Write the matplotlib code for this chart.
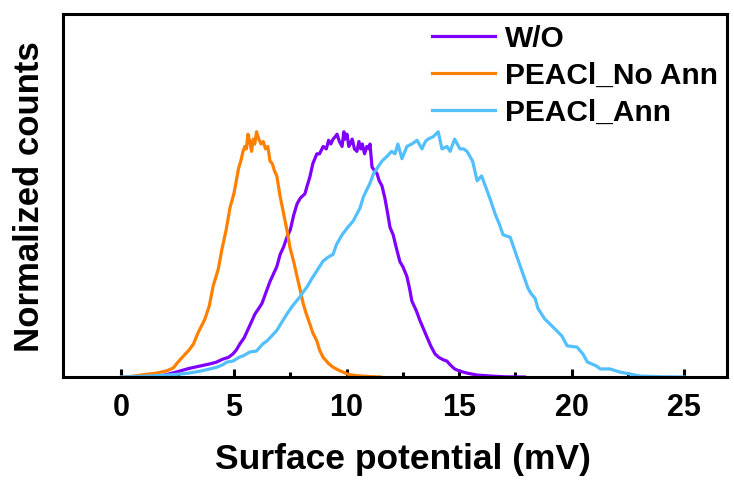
import matplotlib
matplotlib.use("Agg")
import matplotlib.pyplot as plt
from matplotlib.ticker import MultipleLocator, FixedLocator

# surface potential (mV) vs normalized counts
wo_x = [1.5, 2.0, 2.5, 3.0, 3.5, 3.9, 4.2, 4.5, 4.75, 4.95, 5.1, 5.26, 5.45, 5.6, 5.75,
        5.93, 6.1, 6.24, 6.4, 6.6, 6.75, 6.9, 7.05, 7.2, 7.35, 7.5, 7.65, 7.8, 7.95, 8.15,
        8.25, 8.37, 8.5, 8.68, 8.8, 8.96, 9.1, 9.2, 9.3, 9.4, 9.5, 9.58, 9.68, 9.8, 9.88,
        9.93, 10.02, 10.1, 10.16, 10.25, 10.35, 10.46, 10.55, 10.63, 10.7, 10.8, 10.9, 11.0,
        11.04, 11.13, 11.25, 11.35, 11.45, 11.57, 11.7, 11.8, 11.93, 12.07, 12.2, 12.37,
        12.5, 12.68, 12.8, 12.9, 13.1, 13.26, 13.4, 13.57, 13.75, 13.93, 14.1, 14.3, 14.46,
        14.6, 14.8, 15.0, 15.35, 15.8, 16.4, 17.0, 17.9]
wo_y = [0.0, 0.01, 0.022, 0.035, 0.045, 0.053, 0.06, 0.073, 0.08, 0.094, 0.11, 0.135, 0.16,
        0.19, 0.22, 0.257, 0.28, 0.30, 0.34, 0.39, 0.42, 0.45, 0.50, 0.53, 0.57, 0.60, 0.66,
        0.706, 0.73, 0.747, 0.78, 0.816, 0.87, 0.91, 0.91, 0.94, 0.93, 0.965, 0.95, 0.97,
        0.98, 0.99, 0.96, 0.94, 1.0, 0.97, 0.99, 0.94, 0.95, 0.97, 0.93, 0.92, 0.96, 0.93,
        0.95, 0.91, 0.94, 0.93, 0.95, 0.856, 0.84, 0.83, 0.80, 0.78, 0.73, 0.68, 0.61, 0.58,
        0.53, 0.47, 0.45, 0.41, 0.36, 0.31, 0.27, 0.23, 0.2, 0.163, 0.125, 0.094, 0.08, 0.07,
        0.065, 0.05, 0.033, 0.025, 0.016, 0.008, 0.004, 0.001, 0.0]

noann_x = [0.0, 0.5, 1.0, 1.5, 2.0, 2.3, 2.5, 2.8, 3.0, 3.2, 3.4, 3.7, 3.9, 4.07, 4.3,
           4.46, 4.65, 4.82, 5.0, 5.1, 5.2, 5.3, 5.4, 5.48, 5.55, 5.62, 5.7, 5.78, 5.85, 5.92,
           6.0, 6.1, 6.2, 6.3, 6.4, 6.5, 6.6, 6.7, 6.8, 6.9, 7.04, 7.15, 7.26, 7.37, 7.48,
           7.65, 7.8, 7.95, 8.07, 8.2, 8.37, 8.5, 8.68, 8.8, 8.96, 9.2, 9.4, 9.6, 9.84, 10.1,
           10.5, 11.0, 11.5]
noann_y = [0.0, 0.003, 0.01, 0.015, 0.025, 0.037, 0.06, 0.09, 0.11, 0.135, 0.18, 0.235, 0.29,
           0.37, 0.44, 0.52, 0.6, 0.69, 0.75, 0.80, 0.85, 0.88, 0.92, 0.94, 0.93, 0.99, 0.96,
           0.92, 0.97, 0.95, 1.0, 0.97, 0.95, 0.96, 0.93, 0.94, 0.88, 0.87, 0.84, 0.82, 0.74,
           0.69, 0.64, 0.59, 0.53, 0.47, 0.41, 0.35, 0.30, 0.26, 0.216, 0.18, 0.147, 0.11, 0.08,
           0.055, 0.04, 0.03, 0.02, 0.01, 0.005, 0.002, 0.0]

ann_x = [0.0, 0.6, 1.26, 2.0, 2.6, 3.0, 3.5, 3.93, 4.24, 4.5, 4.68, 4.95, 5.26, 5.4, 5.7,
         6.0, 6.28, 6.46, 6.7, 6.9, 7.1, 7.35, 7.6, 7.93, 8.1, 8.24, 8.45, 8.68, 8.96, 9.2,
         9.4, 9.55, 9.8, 10.05, 10.3, 10.6, 10.75, 11.04, 11.2, 11.35, 11.57, 11.8, 12.0, 12.15,
         12.28, 12.46, 12.68, 12.9, 13.13, 13.35, 13.5, 13.62, 13.85, 14.07, 14.24, 14.46, 14.6,
         14.8, 15.04, 15.2, 15.35, 15.6, 15.8, 16.0, 16.24, 16.4, 16.6, 16.8, 16.95, 17.1,
         17.27, 17.57, 17.8, 18.07, 18.2, 18.38, 18.5, 18.8, 19.17, 19.57, 19.8, 20.24, 20.5,
         20.7, 21.1, 21.27, 21.7, 22.15, 22.6, 23.04, 24.0, 25.0]
ann_y = [0.0, 0.002, 0.004, 0.008, 0.012, 0.016, 0.024, 0.033, 0.04, 0.05, 0.061, 0.065, 0.082,
         0.086, 0.102, 0.106, 0.135, 0.147, 0.17, 0.19, 0.22, 0.257, 0.29, 0.327, 0.35, 0.367,
         0.40, 0.433, 0.473, 0.49, 0.50, 0.54, 0.58, 0.61, 0.637, 0.69, 0.735, 0.79, 0.83, 0.85,
         0.88, 0.90, 0.92, 0.91, 0.95, 0.89, 0.94, 0.95, 0.965, 0.93, 0.96, 0.97, 0.98, 1.0,
         0.93, 0.94, 0.92, 0.97, 0.93, 0.93, 0.92, 0.88, 0.80, 0.82, 0.76, 0.72, 0.665, 0.62,
         0.58, 0.575, 0.57, 0.49, 0.43, 0.36, 0.34, 0.32, 0.28, 0.237, 0.204, 0.167, 0.127,
         0.122, 0.094, 0.061, 0.045, 0.033, 0.033, 0.02, 0.012, 0.004, 0.001, 0.0]

labels = ["W/O", "PEACl_No Ann", "PEACl_Ann"]
colors = ["#8000FF", "#FF8000", "#52BFFF"]

plt.rcParams["font.family"] = ["Liberation Sans", "DejaVu Sans"]
plt.rcParams["font.weight"] = "bold"

fig = plt.figure(figsize=(7.34, 4.81), dpi=100)
ax = fig.add_axes([0.0858, 0.2141, 0.9046, 0.7547])

for xs, ys, lab, c in zip([wo_x, noann_x, ann_x], [wo_y, noann_y, ann_y], labels, colors):
    ax.plot(xs, ys, color=c, linewidth=2.3, label=lab)

ax.set_xlim(-2.6, 26.9)
ax.set_ylim(0, 1.48)
ax.set_yticks([])
ax.xaxis.set_major_locator(MultipleLocator(5))
ax.xaxis.set_minor_locator(FixedLocator([2.5, 7.5, 12.5, 17.5, 22.5]))
ax.tick_params(axis="x", which="major", direction="in", length=6, width=2.2,
               labelsize=22, pad=11)
ax.tick_params(axis="x", which="minor", direction="in", length=3.5, width=2.2)
for s in ax.spines.values():
    s.set_linewidth(2.2)

ax.set_xlabel("Surface potential (mV)", fontsize=25.5, fontweight="bold", labelpad=14)
ax.xaxis.label.set_x(0.512)
ax.set_ylabel("Normalized counts", fontsize=25, fontweight="bold", labelpad=12)

ax.legend(loc="upper left", bbox_to_anchor=(0.556, 0.972), frameon=False,
          fontsize=21.5, handlelength=2.1, handletextpad=0.35, labelspacing=0.3,
          borderpad=0, borderaxespad=0)

fig.savefig("out.png", dpi=100)
